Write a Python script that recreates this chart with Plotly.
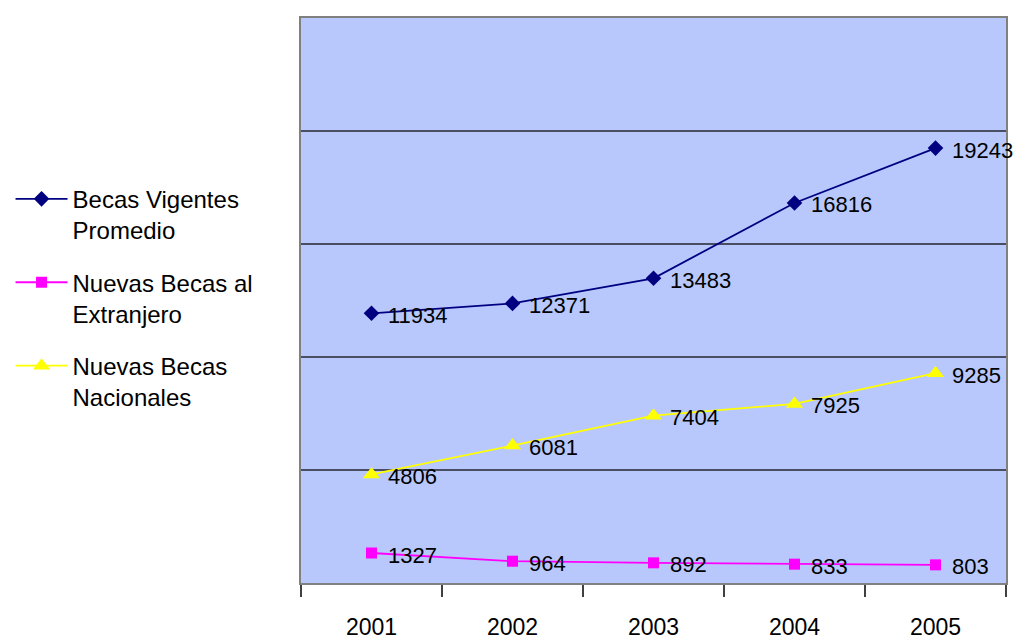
import plotly.graph_objects as go

# Scholarship counts per year
years = ["2001", "2002", "2003", "2004", "2005"]
becas_vigentes = [11934, 12371, 13483, 16816, 19243]
becas_extranjero = [1327, 964, 892, 833, 803]
becas_nacionales = [4806, 6081, 7404, 7925, 9285]

series_names = [
    "Becas Vigentes<br>Promedio",
    "Nuevas Becas al<br>Extranjero",
    "Nuevas Becas<br>Nacionales",
]

FONT = "Liberation Sans Narrow, Arial Narrow, Liberation Sans, Arial, sans-serif"

fig = go.Figure()

styles = [
    (becas_vigentes, "#000080", "diamond", 12),
    (becas_extranjero, "#FF00FF", "square", 11),
    (becas_nacionales, "#FFFF00", "triangle-up", 15),
]

annotations = []
for i, (name, (vals, color, symbol, size)) in enumerate(zip(series_names, styles)):
    fig.add_trace(go.Scatter(
        x=years,
        y=vals,
        name=name,
        legendgroup=f"g{i}",
        mode="lines+markers",
        line=dict(color=color, width=1.8),
        marker=dict(color=color, symbol=symbol, size=size, line=dict(width=0)),
        cliponaxis=False,
    ))
    # value labels to the right of each point (category index positions)
    for k, v in enumerate(vals):
        annotations.append(dict(
            x=k, y=v, xref="x", yref="y",
            text=str(v),
            showarrow=False,
            xanchor="left",
            yanchor="middle",
            xshift=14,
            yshift=-2,
            font=dict(family=FONT, size=22, color="#000000"),
        ))

fig.update_layout(
    template="none",
    width=1016,
    height=640,
    margin=dict(l=301, r=10, t=18, b=57),
    paper_bgcolor="#FFFFFF",
    plot_bgcolor="#B8C8FC",
    font=dict(family=FONT, size=23, color="#000000"),
    annotations=annotations,
    showlegend=True,
    legend=dict(
        x=-0.412,
        xanchor="left",
        y=0.719,
        yanchor="top",
        valign="top",
        traceorder="grouped",
        tracegroupgap=18,
        itemwidth=52,
        bgcolor="rgba(0,0,0,0)",
        font=dict(family=FONT, size=24, color="#000000"),
    ),
    xaxis=dict(
        type="category",
        range=[-0.5, 4.5],
        automargin=False,
        tickson="boundaries",
        ticks="outside",
        ticklen=12,
        tickwidth=1.5,
        tickcolor="#404040",
        ticklabelstandoff=22,
        showgrid=False,
        showline=True,
        linecolor="#808080",
        linewidth=2,
        mirror=True,
        zeroline=False,
        tickfont=dict(family=FONT, size=23, color="#000000"),
    ),
    yaxis=dict(
        range=[0, 25000],
        automargin=False,
        tickvals=[0, 5000, 10000, 15000, 20000, 25000],
        showticklabels=False,
        ticks="",
        showgrid=True,
        gridcolor="#4a4e62",
        gridwidth=2,
        showline=True,
        linecolor="#808080",
        linewidth=2,
        mirror=True,
        zeroline=False,
    ),
)

fig.write_html("out.html")
